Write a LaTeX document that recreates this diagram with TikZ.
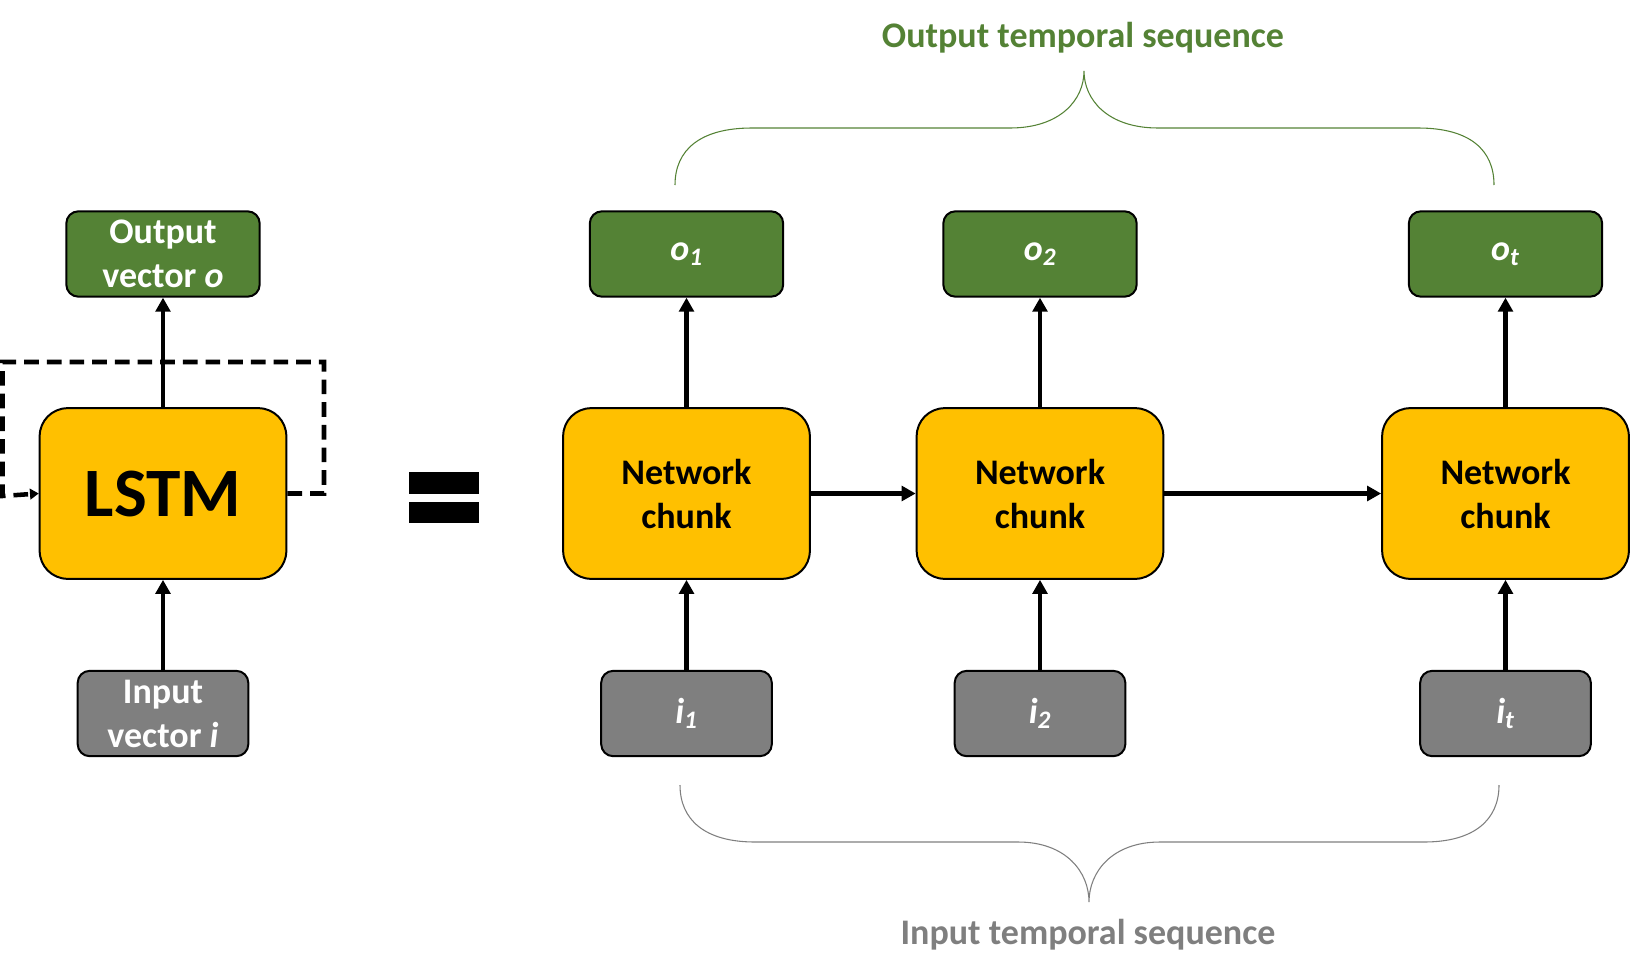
\documentclass[tikz,border=0pt]{standalone}
\usepackage{fontspec}
\setmainfont{Carlito}
\usetikzlibrary{arrows.meta}

\definecolor{chunkyellow}{RGB}{255,192,0}
\definecolor{outgreen}{RGB}{84,130,53}
\definecolor{ingray}{RGB}{127,127,127}

\tikzset{every picture/.style={line width=0.75pt}}
\tikzset{
  boxfont/.style={font=\fontsize{27}{33}\selectfont\bfseries},
  outbox/.style={draw=black, line width=1.5pt, fill=outgreen, rounded corners=9pt, minimum width=145pt, minimum height=64pt, text=white, align=center, inner sep=0pt, boxfont},
  inbox/.style={draw=black, line width=1.5pt, fill=ingray, rounded corners=9pt, minimum width=128pt, minimum height=64pt, text=white, align=center, inner sep=0pt, boxfont},
  chunkbox/.style={draw=black, line width=1.5pt, fill=chunkyellow, rounded corners=21pt, minimum width=185pt, minimum height=128pt, align=center, inner sep=0pt, boxfont},
  flow/.style={line width=3.6pt, -{Triangle[length=10.5pt,width=11pt]}},
  loopline/.style={line width=3.4pt, dash pattern=on 11pt off 6pt, -{Triangle[length=6.5pt,width=8pt]}},
  brace/.style={line width=0.8pt},
}

\begin{document}
\begin{tikzpicture}[x=0.75pt,y=0.75pt,yscale=-1,xscale=1]
	\useasboundingbox (0,0) rectangle (1630,978);

	%Shape: Rounded Rect -- folded LSTM
	\node [chunkbox, font=\fontsize{52}{60}\selectfont\bfseries] (lstm) at (163,493.5) {LSTM};
	\node [outbox] (outv) at (163,254) {Output\\vector \textit{o}};
	\node [inbox] (inv) at (163,713.5) {Input\\vector \textit{i}};
	%Coordinates of the loop corners
	\coordinate (loopR) at (324,362);
	\coordinate (loopL) at (2.5,496);

	%Straight Lines
	\draw [flow] (lstm.north) -- (outv.south);
	\draw [flow] (inv.north) -- (lstm.south);
	\draw [loopline] (lstm.east) -| (loopR) -| (loopL) -- (lstm.west);

	%Shape: Rectangle -- equals sign
	\fill (409,472) rectangle (479,494);
	\fill (409,502) rectangle (479,523);

	%Shape: Rounded Rect -- unrolled chunks
	\node [chunkbox] (c1) at (686.5,493.5) {Network\\chunk};
	\node [chunkbox] (c2) at (1040,493.5) {Network\\chunk};
	\node [chunkbox] (ct) at (1505.5,493.5) {Network\\chunk};
	\node [outbox] (o1) at (686.5,254) {\textit{o}\textsubscript{\textit{1}}};
	\node [outbox] (o2) at (1040,254) {\textit{o}\textsubscript{\textit{2}}};
	\node [outbox] (ot) at (1505.5,254) {\textit{o}\textsubscript{\textit{t}}};
	\node [inbox] (i1) at (686.5,713.5) {\textit{i}\textsubscript{\textit{1}}};
	\node [inbox] (i2) at (1040,713.5) {\textit{i}\textsubscript{\textit{2}}};
	\node [inbox] (it) at (1505.5,713.5) {\textit{i}\textsubscript{\textit{t}}};

	%Straight Lines
	\foreach \k in {1,2,t} {
		\draw [flow] (c\k.north) -- (o\k.south);
		\draw [flow] (i\k.north) -- (c\k.south);
	}
	\draw [flow] (c1.east) -- (c2.west);
	\draw [flow] (c2.east) -- (ct.west);

	%Shape: Brace -- output
	\draw [brace, color=outgreen] (675,185) .. controls (675,150) and (700,128) .. (752,128) -- (1010,128) .. controls (1060,128) and (1084,100) .. (1084,71) .. controls (1084,100) and (1108,128) .. (1158,128) -- (1418,128) .. controls (1470,128) and (1494,150) .. (1494,185);
	%Shape: Brace -- input
	\draw [brace, color=ingray] (680,785) .. controls (680,820) and (705,842) .. (755,842) -- (1018,842) .. controls (1066,842) and (1089,872) .. (1089,902) .. controls (1089,872) and (1112,842) .. (1160,842) -- (1424,842) .. controls (1474,842) and (1499,820) .. (1499,785);

	% Text Node
	\node [boxfont, text=outgreen] (outseq) at (1083,38) {Output temporal sequence};
	% Text Node
	\node [boxfont, text=ingray] (inseq) at (1088,935) {Input temporal sequence};
\end{tikzpicture}
\end{document}
